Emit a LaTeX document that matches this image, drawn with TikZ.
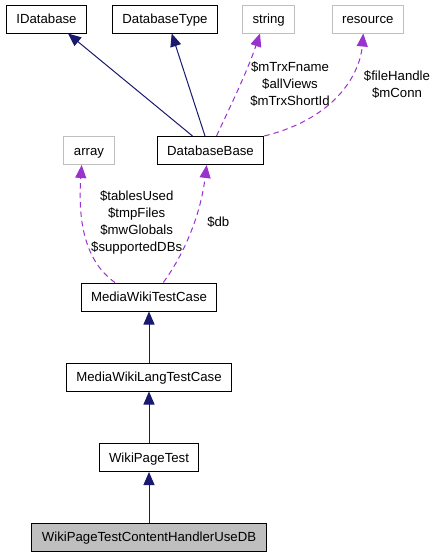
\documentclass[tikz,border=0pt]{standalone}
\usepackage{fontspec}
\setmainfont{Liberation Sans}
\usepackage{tikz}
\usetikzlibrary{arrows.meta}
\usepackage{xcolor}
\definecolor{inhcol}{HTML}{191970}
\definecolor{usecol}{HTML}{9A32CD}
\definecolor{extcol}{HTML}{BFBFBF}

\begin{document}
\begin{tikzpicture}[x=1pt,y=-1pt,
  cls/.style={draw=black, line width=1pt, minimum height=28pt, inner xsep=10pt,
    text height=9.3pt, text depth=0pt, font=\fontsize{13.2}{17.2}\selectfont},
  ext/.style={cls, draw=extcol},
  inh/.style={draw=inhcol, line width=1pt, -{Triangle[length=13pt,width=11pt]}},
  use/.style={draw=usecol, line width=1pt, dash pattern=on 5.5pt off 4pt,
    -{Triangle[length=13pt,width=11pt]}},
  lbl/.style={align=center, inner sep=0pt, font=\fontsize{13.2}{17.2}\selectfont}]
  \useasboundingbox (0,0) rectangle (436,557);
  % classes
  \node[cls] (idb)    at (46.5,19)  {IDatabase};
  \node[cls] (dbtype) at (165,19)   {DatabaseType};
  \node[ext] (str)    at (268.7,19) {string};
  \node[ext] (res)    at (367.8,19) {resource};
  \node[ext] (arr)    at (89,150.5) {array};
  \node[cls] (dbbase) at (210.5,150.5) {DatabaseBase};
  \node[cls] (mwtc)   at (149,297)  {MediaWikiTestCase};
  \node[cls] (mwltc)  at (149,377)  {MediaWikiLangTestCase};
  \node[cls] (wpt)    at (149,457.5) {WikiPageTest};
  \node[cls, fill=extcol] (wptdb) at (149,537) {WikiPageTestContentHandlerUseDB};
  % inheritance
  \draw[inh] ([xshift=-18pt]dbbase.north) -- ([xshift=21.5pt]idb.south);
  \draw[inh] ([xshift=-5.5pt]dbbase.north) -- ([xshift=6.7pt]dbtype.south);
  \draw[inh] (mwltc.north) -- (mwtc.south);
  \draw[inh] (wpt.north) -- (mwltc.south);
  \draw[inh] (wptdb.north) -- (wpt.south);
  % members
  \draw[use] ([xshift=6pt]dbbase.north) .. controls +(15,-32) and +(-12,36) .. ([xshift=-8.7pt]str.south);
  \draw[use] (dbbase.north east) .. controls +(76,-19) and +(-3,36) .. ([xshift=-4.5pt]res.south);
  \draw[use] ([xshift=-34pt]mwtc.north) .. controls +(-30,-21) and +(-4,56) .. ([xshift=-7.3pt]arr.south);
  \draw[use] ([xshift=14.3pt]mwtc.north) .. controls +(17,-23) and +(-7,56) .. ([xshift=-3.8pt]dbbase.south);
  \node[lbl] (strlbl) at (290,84)    {\$mTrxFname\\\$allViews\\\$mTrxShortId};
  \node[lbl] (reslbl) at (397,84.5)  {\$fileHandle\\\$mConn};
  \node[lbl] (arrlbl) at (136.7,222.5) {\$tablesUsed\\\$tmpFiles\\\$mwGlobals\\\$supportedDBs};
  \node[lbl] (dblbl)  at (218.3,222.3) {\$db};
\end{tikzpicture}
\end{document}
